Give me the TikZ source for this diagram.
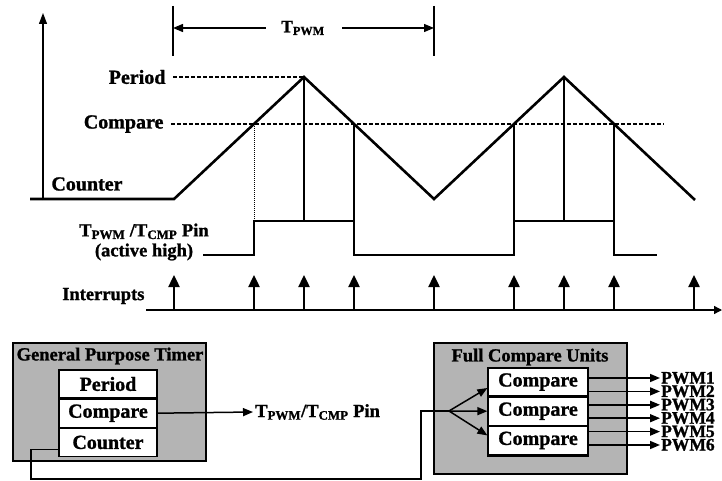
\documentclass[tikz,border=0pt]{standalone}
\usepackage{fontspec}
\setmainfont{Liberation Serif}[BoldFeatures={FakeBold=1.2}]
\usetikzlibrary{positioning, arrows.meta}
\definecolor{BoxGray}{RGB}{180,180,180}
\tikzset{
  wave/.style={line width=2.6pt},
  guide/.style={line width=1.3pt},
  level/.style={line width=1.3pt, dash pattern=on 4pt off 2pt},
  tick/.style={line width=1.3pt, -{Triangle[length=10pt,width=8pt]}},
  irq/.style={line width=2.4pt, -{Triangle[length=12pt,width=11pt]}},
  sig/.style={line width=1.5pt, -{Triangle[length=10pt,width=8pt]}},
  unit/.style={draw, fill=BoxGray, line width=2.4pt},
  cell/.style={draw, fill=white, line width=1.2pt, minimum width=98pt, minimum height=28pt, inner sep=0pt},
  smalltext/.style={font=\bfseries\fontsize{18.5}{20}\selectfont},
  pwmtext/.style={font=\bfseries\fontsize{17.5}{18}\selectfont, inner sep=1pt, text height=11pt, text depth=0pt},
}

\begin{document}
\begin{tikzpicture}[x=1pt, y=-1pt, font=\bfseries\fontsize{20}{22}\selectfont]
\useasboundingbox (0,0) rectangle (722,481);

\coordinate (v0) at (174,199);
\coordinate (p1) at (304,77);
\coordinate (v1) at (434,199);
\coordinate (p2) at (564,77);
\coordinate (v2) at (695,200);
\coordinate (c1) at (254,124);
\coordinate (c2) at (354,124);
\coordinate (c3) at (514,124);
\coordinate (c4) at (614,124);
\coordinate (cmpEnd) at (664,124);

\draw[guide, -{Triangle[length=11pt,width=8pt]}] (43,200) -- (43,13);
\draw[wave] (30,199) -- (v0) -- (p1) -- (v1) -- (p2) -- (v2);

\node[anchor=east] (periodLbl) at (169,77) {Period};
\node[anchor=east] (compareLbl) at (167,124) {Compare};
\node (counterLbl) at (87,184) {Counter};
\draw[level, shorten <=4pt] (periodLbl.east) -- (p1);
\draw[level, shorten <=4pt] (compareLbl.east) -- (cmpEnd);

\draw[line width=1pt, dash pattern=on 1pt off 1pt] (c1) -- (c1 |- 0,221);
\foreach \p in {p1,c2,c3,p2,c4}
  \draw[guide] (\p) -- (\p |- 0,221);

\draw[wave] (203,255) -| (254,221) -| (354,255) -| (514,221) -| (614,255) -- (657,255);
\node[align=center, smalltext] (pinLbl) at (144,242) {T\textsubscript{PWM} /T\textsubscript{CMP} Pin\\(active high)};

\draw[guide] (173,6) -- (173,56);
\draw[guide] (434,6) -- (434,56);
\coordinate (tL) at (173,28);
\coordinate (tR) at (434,28);
\node[font=\bfseries\fontsize{17.5}{20}\selectfont] (tpwm) at (303,28) {T\textsubscript{PWM}};
\draw[tick, shorten <=12pt] (tpwm.west) -- (tL);
\draw[tick, shorten <=14pt] (tpwm.east) -- (tR);

\node[anchor=east, smalltext] (irqLbl) at (148,296) {Interrupts};
\draw[guide, -{Triangle[length=8pt,width=8pt]}] (146,310) -- (722,310);
\foreach \x in {174,254,304,354,434,514,564,614,694}
  \draw[irq] (\x,310) -- (\x,275);

\node[unit, minimum width=193pt, minimum height=118pt] (gpt) at (109.5,402) {};
\node[smalltext] (gptTitle) at (110,356) {General Purpose Timer};
\node[cell] (gpPeriod) at (108,384) {Period};
\node[cell, below=0pt of gpPeriod] (gpCompare) {Compare};
\node[cell, below=0pt of gpCompare] (gpCounter) {Counter};
\node[smalltext, anchor=west, inner sep=2pt] (pinOut) at (253,412) {T\textsubscript{PWM}/T\textsubscript{CMP} Pin};
\draw[sig] (gpCompare.east) -- (pinOut.west);

\node[unit, line width=1.8pt, minimum width=193pt, minimum height=131pt] (fcu) at (530.5,408.5) {};
\node[smalltext] (fcuTitle) at (530,357) {Full Compare Units};
\node[cell, minimum width=100pt] (fcCmpA) at (538,382) {Compare};
\node[cell, minimum width=100pt, below=0pt of fcCmpA] (fcCmpB) {Compare};
\node[cell, minimum width=100pt, below=0pt of fcCmpB] (fcCmpC) {Compare};
\draw[line width=3pt] (fcCmpC.south west) -- (fcCmpC.south east);

\coordinate (split) at (449,411);
\draw[line width=1.5pt] ([yshift=-7pt]gpCounter.west) -| (31,479) -| (421,411) -- (split);
\draw[sig] (split) -- ([yshift=-6pt]fcCmpA.west);
\draw[sig] (split) -- (fcCmpB.west);
\draw[sig] (split) -- ([yshift=5pt]fcCmpC.west);

\foreach \i in {1,...,6} {
  \pgfmathsetmacro\yy{378+(\i-1)*13.4}
  \node[pwmtext, anchor=west] (pwm\i) at (660,\yy) {PWM\i};
  \draw[sig] (fcCmpA.east |- pwm\i.west) -- (pwm\i.west);
}
\end{tikzpicture}
\end{document}
